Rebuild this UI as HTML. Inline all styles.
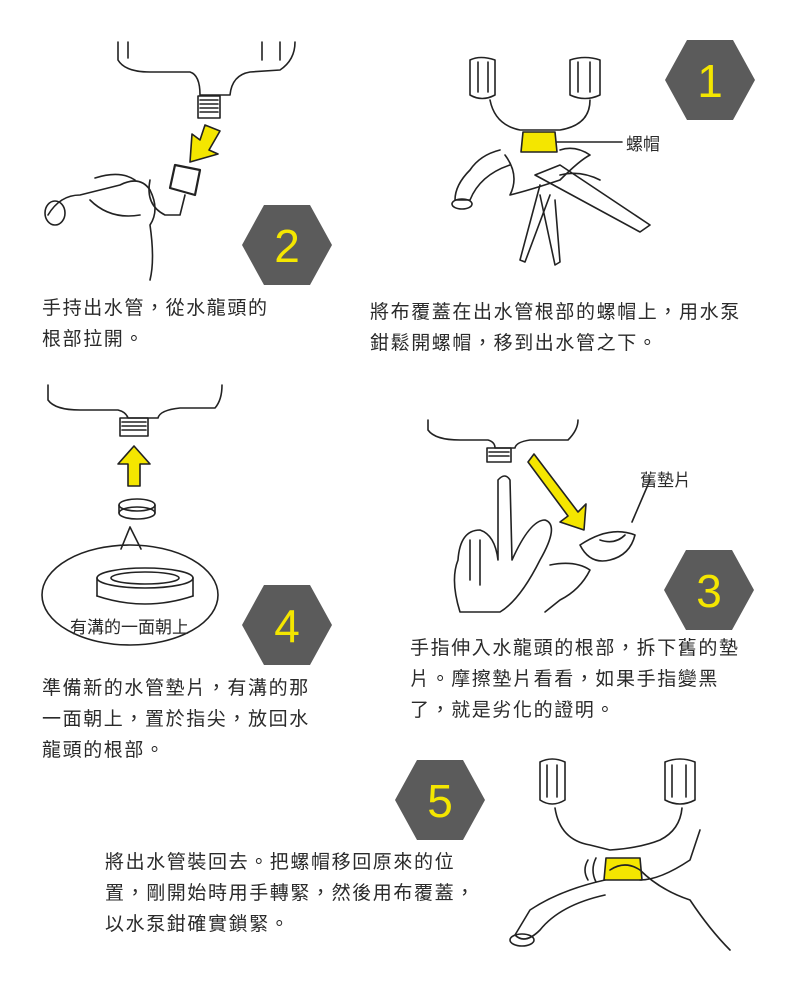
<!DOCTYPE html>
<html><head><meta charset="utf-8">
<style>
html,body{margin:0;padding:0;background:#fff;}
#c{position:relative;width:800px;height:984px;overflow:hidden;background:#fff;}
.t{position:absolute;font-family:"Liberation Sans","Noto Sans CJK TC",sans-serif;font-size:19px;letter-spacing:1.6px;color:#2a2a2a;line-height:31px;white-space:nowrap;}
svg{position:absolute;left:0;top:0;}
</style></head><body><div id="c">
<svg width="800" height="984" viewBox="0 0 800 984" fill="none" stroke="#222" stroke-width="1.6" stroke-linecap="round" stroke-linejoin="round">
<g stroke="none" fill="#5b5b5b">
<polygon points="665,80 687,40 733,40 755,80 733,120 687,120"/>
<polygon points="242,245 264,205 310,205 332,245 310,285 264,285"/>
<polygon points="664,590 686,550 732,550 754,590 732,630 686,630"/>
<polygon points="242,625 264,585 310,585 332,625 310,665 264,665"/>
<polygon points="395,800 417,760 463,760 485,800 463,840 417,840"/>
</g>
<g stroke="none" fill="#f4e600" font-family="Liberation Sans,sans-serif" font-size="46" text-anchor="middle">
<text x="710" y="97">1</text><text x="287" y="262">2</text><text x="709" y="607">3</text><text x="287" y="642">4</text><text x="440" y="817">5</text>
</g>
<!-- panel 2 -->
<path d="M118 42 L118 60 Q125 72 150 72 L190 72 Q200 75 200 95 L230 95 Q232 75 250 72 L280 70 Q295 60 295 42"/>
<path d="M262 42 L262 60 M280 42 L280 60 M128 42 L128 58"/>
<rect x="198" y="96" width="22" height="22"/>
<path d="M200 100h18M200 104h18M200 108h18M200 112h18"/>
<polygon points="205,125 220,131 209,150 218,154 190,162 192,134 200,140" fill="#f4e600" stroke="#222"/>
<path d="M175 165 L200 170 L195 195 L170 188 Z" stroke-width="2.2"/>
<path d="M150 180 Q145 205 165 215 L180 215 L185 195"/>
<path d="M48 215 Q60 195 80 195 L120 185 Q140 175 150 190 Q160 210 150 225 Q155 260 150 280 M90 200 Q110 220 140 215"/>
<ellipse cx="55" cy="213" rx="10" ry="12"/>
<path d="M95 178 Q120 170 135 180"/>
<!-- panel 1 -->
<path d="M470 60 Q480 55 495 60 L495 95 Q482 102 470 95 Z M570 60 Q585 55 600 60 L600 95 Q585 102 570 95 Z"/>
<path d="M478 62v30M488 62v30M578 62v30M590 62v30"/>
<path d="M490 100 Q495 125 520 130 L540 130 L560 130 Q590 125 590 100"/>
<polygon points="523,132 555,132 557,152 521,152" fill="#f4e600" stroke="#222"/>
<path d="M557 142 L622 142"/>
<path d="M500 150 Q480 155 470 170 Q455 185 455 200 L470 200 Q480 175 510 165 M505 155 Q520 175 510 195 Q530 190 560 180 Q580 160 590 155 Q575 145 560 150"/>
<ellipse cx="462" cy="204" rx="10" ry="5"/>
<path d="M535 175 L560 165 L650 225 L640 232 Z M540 185 L520 260 L525 262 L550 195 M560 175 Q580 170 600 180"/>
<path d="M540 195 L555 265 L560 262 L555 200"/>
<!-- panel 4 -->
<path d="M48 385 L48 400 Q55 410 80 410 L118 410 Q126 412 128 418 L158 418 Q160 410 180 408 L215 408 Q222 400 222 385"/>
<rect x="120" y="418" width="28" height="18"/>
<path d="M122 422h24M122 426h24M122 430h24"/>
<polygon points="134,446 150,464 140,464 140,486 128,486 128,464 118,464" fill="#f4e600" stroke="#222"/>
<ellipse cx="137" cy="505" rx="18" ry="6"/><path d="M119 505v8 M155 505v8"/><ellipse cx="137" cy="513" rx="18" ry="6"/>
<ellipse cx="130" cy="595" rx="88" ry="50" fill="#fff"/>
<path d="M122 549 L140 549" stroke="#fff" stroke-width="4"/>
<path d="M130 527 L121 549 M130 527 L141 549"/>
<ellipse cx="145" cy="578" rx="48" ry="10"/><path d="M97 578v18 M193 578v18"/><path d="M97 596 Q145 612 193 596"/>
<ellipse cx="145" cy="578" rx="34" ry="6"/>
<!-- panel 3 -->
<path d="M428 420 L428 430 Q435 440 460 440 L488 440 Q495 442 495 448 L515 448 Q516 442 530 440 L568 440 Q578 430 578 420"/>
<rect x="487" y="448" width="24" height="14"/>
<path d="M489 452h20M489 456h20"/>
<polygon points="528,462 534,454 578,512 586,504 584,530 560,522 568,516" fill="#f4e600" stroke="#222"/>
<path d="M498 480 Q505 472 510 480 L512 560 Q530 520 545 520 Q560 525 540 560 Q520 600 500 612 L460 612 Q450 580 458 560 Q460 530 480 530 Q495 535 498 560 Z"/>
<path d="M470 540 L470 580 M480 540 L480 585"/>
<path d="M580 545 Q610 525 635 535 Q630 555 610 560 Q590 565 580 545 M600 540 Q615 545 625 535"/>
<path d="M550 565 Q575 560 590 570 Q580 590 560 600 L545 612"/>
<path d="M632 522 L650 480"/>
<!-- panel 5 -->
<path d="M540 762 Q552 756 565 762 L565 800 Q552 808 540 800 Z M665 762 Q680 756 695 762 L695 800 Q680 808 665 800 Z"/>
<path d="M547 765v32M557 765v32M672 765v32M686 765v32"/>
<path d="M555 808 Q560 840 590 845 L610 850 Q640 848 660 840 Q680 830 682 808"/>
<polygon points="606,858 640,858 642,880 604,880" fill="#f4e600" stroke="#222"/>
<path d="M605 880 Q560 890 530 910 L515 935 Q525 945 540 930 Q560 905 605 895 M640 880 Q660 880 690 860 L700 830"/>
<path d="M610 870 Q625 860 640 870 Q660 890 690 900 Q710 930 730 950"/>
<ellipse cx="522" cy="940" rx="12" ry="6"/>
<path d="M588 860 Q582 870 588 880 M596 858 Q590 870 596 882"/>
</svg>
<div class="t" style="left:42px;top:293px;">手持出水管，從水龍頭的<br>根部拉開。</div>
<div class="t" style="left:370px;top:297px;">將布覆蓋在出水管根部的螺帽上，用水泵<br>鉗鬆開螺帽，移到出水管之下。</div>
<div class="t" style="left:410px;top:633px;">手指伸入水龍頭的根部，拆下舊的墊<br>片。摩擦墊片看看，如果手指變黑<br>了，就是劣化的證明。</div>
<div class="t" style="left:42px;top:673px;">準備新的水管墊片，有溝的那<br>一面朝上，置於指尖，放回水<br>龍頭的根部。</div>
<div class="t" style="left:105px;top:847px;">將出水管裝回去。把螺帽移回原來的位<br>置，剛開始時用手轉緊，然後用布覆蓋，<br>以水泵鉗確實鎖緊。</div>
<div class="t" style="left:626px;top:129px;font-size:17px;letter-spacing:0;">螺帽</div>
<div class="t" style="left:640px;top:465px;font-size:17px;letter-spacing:0;">舊墊片</div>
<div class="t" style="left:70px;top:612px;font-size:17px;letter-spacing:0;">有溝的一面朝上</div>
</div></body></html>
